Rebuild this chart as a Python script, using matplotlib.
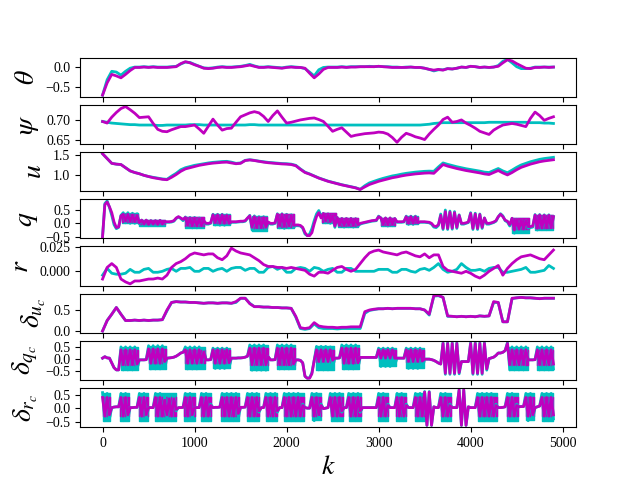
import numpy as np
import matplotlib
matplotlib.use('Agg')
import matplotlib.pyplot as plt

plt.rcParams['font.family'] = 'serif'
plt.rcParams['font.serif'] = ['Liberation Serif', 'DejaVu Serif']
plt.rcParams['mathtext.fontset'] = 'stix'

# sample index of the slow signals (every 50 steps) and the fast ones (every 25)
k50 = np.arange(0, 4901, 50)
k25 = np.arange(0, 4901, 25)

theta_ref = [
    -0.72, -0.32, -0.10, -0.12, -0.20, -0.10, -0.02, 0.01, 0.01, 0.02,
    0.01, 0.02, 0.01, 0.01, 0.01, 0.02, 0.03, 0.09, 0.14, 0.13,
    0.08, 0.03, -0.01, -0.02, -0.01, 0.01, 0.02, 0.01, 0.01, 0.02,
    0.03, 0.05, 0.08, 0.04, 0.01, 0.01, 0.02, 0.01, 0.0, -0.01,
    0.01, 0.02, 0.01, 0.0, -0.03, -0.12, -0.22, -0.06, 0.0, 0.01,
    0.01, 0.01, 0.02, 0.01, 0.02, 0.02, 0.02, 0.02, 0.03, 0.02,
    0.03, 0.02, 0.02, 0.01, 0.01, 0.0, 0.01, 0.01, 0.0, 0.0,
    -0.02, -0.05, -0.09, -0.06, -0.06, -0.03, -0.04, -0.02, 0.01, 0.0,
    0.03, 0.02, 0.0, 0.01, 0.0, 0.01, 0.05, 0.16, 0.21, 0.12,
    0.02, -0.03, -0.03, -0.02, 0.01, 0.01, 0.01, 0.01, 0.01]
theta = [
    -0.72, -0.40, -0.18, -0.22, -0.27, -0.18, -0.08, 0.0, 0.0, 0.01,
    0.0, 0.01, 0.0, 0.0, 0.0, 0.01, 0.02, 0.10, 0.15, 0.12,
    0.07, 0.03, -0.02, -0.03, -0.02, 0.0, 0.01, 0.0, 0.0, 0.01,
    0.02, 0.04, 0.06, 0.03, 0.0, 0.0, 0.01, 0.0, -0.01, -0.02,
    0.0, 0.01, 0.0, 0.0, -0.02, -0.15, -0.27, -0.17, -0.05, 0.0,
    0.0, 0.0, 0.01, 0.0, 0.01, 0.01, 0.02, 0.02, 0.02, 0.02,
    0.03, 0.02, 0.01, 0.0, 0.0, 0.0, 0.0, 0.01, 0.0, 0.0,
    -0.02, -0.05, -0.07, -0.05, -0.07, -0.03, -0.04, -0.02, 0.01, 0.0,
    0.03, 0.02, 0.0, 0.01, 0.0, 0.01, 0.03, 0.12, 0.20, 0.17,
    0.10, 0.04, -0.02, -0.03, 0.0, 0.0, 0.01, 0.0, 0.01]

psi_ref = [
    0.697, 0.695, 0.693, 0.692, 0.691, 0.690, 0.689, 0.689, 0.688, 0.688,
    0.688, 0.688, 0.687, 0.687, 0.688, 0.688, 0.688, 0.688, 0.688, 0.689,
    0.689, 0.689, 0.688, 0.688, 0.688, 0.688, 0.688, 0.688, 0.688, 0.688,
    0.688, 0.688, 0.689, 0.689, 0.688, 0.688, 0.688, 0.688, 0.688, 0.688,
    0.688, 0.688, 0.688, 0.688, 0.688, 0.688, 0.688, 0.688, 0.688, 0.688,
    0.688, 0.688, 0.688, 0.688, 0.688, 0.688, 0.688, 0.688, 0.688, 0.688,
    0.688, 0.688, 0.688, 0.688, 0.688, 0.688, 0.688, 0.688, 0.688, 0.688,
    0.689, 0.690, 0.692, 0.693, 0.694, 0.694, 0.694, 0.694, 0.694, 0.694,
    0.694, 0.694, 0.694, 0.694, 0.695, 0.695, 0.695, 0.695, 0.695, 0.695,
    0.695, 0.695, 0.695, 0.694, 0.694, 0.694, 0.693, 0.693, 0.692]
psi = [
    0.697, 0.693, 0.708, 0.720, 0.730, 0.735, 0.727, 0.718, 0.707, 0.708,
    0.709, 0.692, 0.677, 0.672, 0.671, 0.676, 0.680, 0.684, 0.684, 0.686,
    0.688, 0.678, 0.667, 0.685, 0.703, 0.688, 0.675, 0.679, 0.680, 0.695,
    0.709, 0.714, 0.719, 0.722, 0.719, 0.710, 0.697, 0.712, 0.724, 0.708,
    0.693, 0.695, 0.698, 0.701, 0.703, 0.705, 0.706, 0.702, 0.697, 0.685,
    0.672, 0.677, 0.681, 0.670, 0.659, 0.662, 0.664, 0.666, 0.667, 0.668,
    0.670, 0.669, 0.665, 0.656, 0.644, 0.657, 0.667, 0.663, 0.658, 0.655,
    0.651, 0.665, 0.677, 0.688, 0.702, 0.708, 0.695, 0.697, 0.701, 0.693,
    0.687, 0.680, 0.672, 0.668, 0.664, 0.675, 0.682, 0.688, 0.690, 0.692,
    0.690, 0.687, 0.684, 0.705, 0.721, 0.712, 0.700, 0.705, 0.709]

u_ref = [
    1.54, 1.42, 1.30, 1.28, 1.27, 1.19, 1.11, 1.07, 1.04, 1.00,
    0.97, 0.95, 0.93, 0.91, 0.90, 0.98, 1.05, 1.14, 1.19, 1.22,
    1.25, 1.27, 1.29, 1.31, 1.325, 1.335, 1.345, 1.35, 1.33, 1.30,
    1.31, 1.375, 1.39, 1.375, 1.355, 1.34, 1.325, 1.315, 1.305, 1.295,
    1.29, 1.28, 1.25, 1.16, 1.08, 1.035, 0.985, 0.935, 0.895, 0.855,
    0.825, 0.795, 0.765, 0.74, 0.715, 0.69, 0.65, 0.74, 0.81, 0.85,
    0.89, 0.925, 0.955, 0.985, 1.005, 1.03, 1.05, 1.065, 1.08, 1.09,
    1.10, 1.105, 1.10, 1.21, 1.31, 1.275, 1.245, 1.215, 1.19, 1.165,
    1.145, 1.125, 1.105, 1.08, 1.07, 1.12, 1.17, 1.11, 1.065, 1.13,
    1.20, 1.26, 1.30, 1.34, 1.37, 1.40, 1.42, 1.435, 1.45]
u = [
    1.54, 1.42, 1.30, 1.28, 1.27, 1.19, 1.11, 1.07, 1.04, 1.00,
    0.97, 0.94, 0.92, 0.90, 0.89, 0.95, 1.02, 1.10, 1.16, 1.19,
    1.22, 1.25, 1.27, 1.29, 1.305, 1.315, 1.325, 1.33, 1.31, 1.29,
    1.30, 1.37, 1.385, 1.37, 1.35, 1.33, 1.315, 1.305, 1.295, 1.285,
    1.28, 1.27, 1.24, 1.15, 1.07, 1.03, 0.98, 0.93, 0.89, 0.85,
    0.82, 0.79, 0.76, 0.735, 0.71, 0.685, 0.645, 0.71, 0.77, 0.81,
    0.85, 0.88, 0.91, 0.94, 0.96, 0.985, 1.005, 1.02, 1.035, 1.045,
    1.055, 1.06, 1.05, 1.16, 1.27, 1.23, 1.20, 1.17, 1.145, 1.12,
    1.10, 1.08, 1.06, 1.035, 1.02, 1.07, 1.12, 1.06, 1.01, 1.07,
    1.14, 1.20, 1.24, 1.28, 1.31, 1.34, 1.36, 1.375, 1.39]

q_ref = [
    -0.50, 0.74, 0.84, 0.60, 0.30, -0.05, -0.20, -0.15, 0.30, 0.40, 0.02, 0.40, 0.0, 0.38, 0.0, 0.36, -0.02, 0.12, -0.08, 0.12,
    -0.09, 0.10, -0.08, 0.10, -0.09, 0.11, -0.08, 0.04, 0.04, 0.04, 0.05, 0.08, 0.18, 0.24, 0.18, 0.10, 0.24, -0.15, 0.22, -0.17,
    0.22, -0.17, 0.20, -0.15, 0.08, -0.03, -0.03, 0.0, 0.34, -0.06, 0.34, -0.07, 0.34, -0.07, 0.32, -0.05, 0.04, 0.04, 0.04, 0.05,
    0.06, 0.06, 0.08, 0.18, 0.30, -0.25, 0.28, -0.27, 0.25, -0.27, 0.25, -0.25, 0.02, -0.03, -0.03, 0.0, 0.36, -0.17, 0.36, -0.19,
    0.34, -0.17, 0.32, -0.14, -0.09, -0.09, -0.10, -0.18, -0.40, -0.46, -0.40, -0.20, 0.10, 0.35, 0.48, 0.28, 0.37, 0.02, 0.35, 0.0,
    0.30, -0.15, 0.22, -0.12, 0.18, -0.14, 0.18, -0.13, 0.18, -0.14, 0.17, -0.10, -0.03, 0.0, 0.02, 0.04, 0.06, 0.08, 0.09, 0.10,
    0.27, 0.20, -0.09, 0.20, -0.10, 0.20, -0.09, 0.18, 0.04, 0.04, 0.04, 0.05, 0.27, -0.04, 0.27, -0.04, 0.27, 0.0, 0.04, 0.04,
    0.04, 0.03, 0.02, -0.03, -0.14, -0.16, -0.08, 0.35, -0.23, 0.50, -0.23, 0.46, -0.22, 0.44, -0.19, 0.32, -0.03, -0.03, 0.0, 0.03,
    0.40, -0.23, 0.38, -0.23, 0.35, -0.19, 0.20, -0.03, -0.03, 0.0, 0.03, 0.08, 0.24, 0.36, 0.28, 0.10, 0.05, -0.10, 0.19, -0.37,
    0.15, -0.33, 0.12, -0.30, 0.10, -0.18, -0.16, -0.14, 0.33, -0.25, 0.33, -0.24, 0.32, -0.24, 0.32, -0.23, 0.25]
q = [
    -0.50, 0.70, 0.80, 0.62, 0.40, 0.05, -0.16, -0.13, 0.28, 0.34, 0.08, 0.34, 0.06, 0.32, 0.06, 0.30, 0.02, 0.12, -0.03, 0.12,
    -0.04, 0.10, -0.03, 0.10, -0.04, 0.11, -0.03, 0.06, 0.06, 0.06, 0.07, 0.10, 0.20, 0.25, 0.20, 0.15, 0.22, -0.08, 0.20, -0.10,
    0.20, -0.10, 0.18, -0.10, 0.10, 0.0, 0.0, 0.02, 0.32, 0.02, 0.32, 0.0, 0.32, 0.0, 0.30, 0.0, 0.06, 0.06, 0.06, 0.07,
    0.08, 0.08, 0.10, 0.20, 0.28, -0.15, 0.25, -0.17, 0.22, -0.17, 0.22, -0.15, 0.05, 0.0, 0.0, 0.02, 0.34, -0.10, 0.34, -0.12,
    0.32, -0.10, 0.30, -0.08, -0.06, -0.06, -0.08, -0.15, -0.35, -0.46, -0.46, -0.35, -0.02, 0.25, 0.40, 0.20, 0.37, 0.08, 0.35, 0.06,
    0.30, -0.10, 0.22, -0.08, 0.18, -0.09, 0.18, -0.08, 0.18, -0.09, 0.17, -0.06, 0.0, 0.02, 0.04, 0.06, 0.08, 0.10, 0.11, 0.12,
    0.25, 0.20, -0.05, 0.20, -0.06, 0.20, -0.05, 0.18, 0.06, 0.06, 0.06, 0.07, 0.25, 0.0, 0.25, 0.0, 0.25, 0.02, 0.06, 0.06,
    0.06, 0.05, 0.04, 0.0, -0.10, -0.12, -0.05, 0.30, -0.19, 0.44, -0.19, 0.42, -0.18, 0.40, -0.15, 0.30, 0.0, 0.0, 0.02, 0.05,
    0.37, -0.19, 0.35, -0.19, 0.33, -0.15, 0.20, 0.0, 0.0, 0.02, 0.05, 0.10, 0.25, 0.34, 0.25, 0.12, 0.08, -0.05, 0.19, -0.25,
    0.15, -0.22, 0.12, -0.22, 0.10, -0.12, -0.12, -0.10, 0.31, -0.19, 0.31, -0.18, 0.30, -0.18, 0.30, -0.17, 0.25]

r_ref = [
    -0.004, 0.003, -0.002, -0.003, -0.003, -0.002, 0.002, -0.001, -0.001, 0.002,
    0.003, -0.001, -0.001, 0.000, 0.002, 0.003, 0.000, 0.003, 0.003, 0.004,
    0.000, 0.000, 0.003, 0.003, 0.000, 0.002, 0.003, 0.000, 0.003, 0.004,
    0.004, 0.001, 0.003, 0.003, -0.001, -0.001, 0.004, 0.005, 0.002, 0.004,
    -0.001, -0.001, 0.003, 0.004, 0.003, 0.000, 0.004, 0.003, 0.000, 0.002,
    0.003, -0.001, -0.001, 0.003, 0.003, 0.000, 0.000, 0.000, 0.000, 0.000,
    0.002, 0.002, 0.002, -0.001, -0.001, 0.002, 0.002, 0.000, -0.001, 0.002,
    0.003, 0.001, 0.004, 0.008, 0.002, -0.001, 0.000, 0.002, 0.008, 0.004,
    0.001, 0.001, 0.002, 0.000, 0.003, 0.004, 0.004, -0.001, -0.001, 0.000,
    0.001, 0.002, 0.004, -0.001, -0.001, 0.000, 0.001, 0.006, 0.003]
r = [
    -0.008, 0.004, 0.008, 0.004, -0.008, -0.011, -0.013, -0.010, -0.010, -0.009,
    -0.008, -0.008, -0.007, -0.008, -0.004, 0.004, 0.008, 0.010, 0.013, 0.017,
    0.019, 0.018, 0.017, 0.018, 0.018, 0.014, 0.012, 0.016, 0.024, 0.021,
    0.019, 0.018, 0.017, 0.014, 0.011, 0.007, 0.005, 0.005, 0.004, 0.004,
    0.003, 0.004, 0.003, 0.002, 0.001, -0.003, -0.005, -0.001, -0.001, -0.002,
    0.001, 0.004, 0.005, 0.002, 0.000, 0.002, 0.008, 0.014, 0.019, 0.021,
    0.022, 0.020, 0.019, 0.018, 0.017, 0.019, 0.020, 0.018, 0.016, 0.015,
    0.018, 0.014, 0.017, 0.017, 0.005, 0.001, 0.000, -0.001, -0.002, 0.000,
    -0.002, -0.005, -0.007, -0.004, 0.000, 0.003, 0.006, -0.004, 0.003, 0.008,
    0.012, 0.015, 0.016, 0.017, 0.015, 0.013, 0.012, 0.017, 0.022]

du_ref = [
    0.00, 0.25, 0.40, 0.56, 0.40, 0.25, 0.25, 0.26, 0.25, 0.26,
    0.25, 0.26, 0.26, 0.27, 0.48, 0.68, 0.70, 0.69, 0.69, 0.68,
    0.68, 0.67, 0.66, 0.67, 0.67, 0.66, 0.67, 0.67, 0.66, 0.68,
    0.78, 0.78, 0.66, 0.58, 0.58, 0.57, 0.57, 0.56, 0.56, 0.55,
    0.55, 0.54, 0.33, 0.06, 0.04, 0.06, 0.17, 0.08, 0.06, 0.06,
    0.06, 0.05, 0.06, 0.06, 0.06, 0.06, 0.06, 0.42, 0.49, 0.51,
    0.53, 0.53, 0.54, 0.53, 0.54, 0.54, 0.54, 0.54, 0.53, 0.53,
    0.50, 0.38, 0.83, 0.84, 0.80, 0.35, 0.35, 0.34, 0.35, 0.34,
    0.35, 0.34, 0.36, 0.35, 0.36, 0.68, 0.68, 0.22, 0.22, 0.77,
    0.79, 0.80, 0.79, 0.79, 0.78, 0.77, 0.78, 0.78, 0.78]
du = [
    0.00, 0.25, 0.40, 0.56, 0.40, 0.25, 0.25, 0.26, 0.25, 0.26,
    0.25, 0.26, 0.26, 0.27, 0.50, 0.68, 0.70, 0.69, 0.69, 0.68,
    0.68, 0.67, 0.66, 0.67, 0.67, 0.66, 0.67, 0.67, 0.66, 0.70,
    0.78, 0.78, 0.65, 0.58, 0.58, 0.57, 0.57, 0.56, 0.56, 0.55,
    0.55, 0.54, 0.35, 0.08, 0.06, 0.08, 0.20, 0.12, 0.10, 0.09,
    0.09, 0.08, 0.09, 0.09, 0.10, 0.10, 0.10, 0.46, 0.50, 0.52,
    0.53, 0.53, 0.54, 0.53, 0.54, 0.54, 0.54, 0.54, 0.53, 0.53,
    0.50, 0.40, 0.84, 0.85, 0.80, 0.36, 0.35, 0.34, 0.35, 0.34,
    0.35, 0.34, 0.36, 0.35, 0.36, 0.70, 0.68, 0.22, 0.22, 0.78,
    0.79, 0.80, 0.79, 0.79, 0.78, 0.77, 0.78, 0.78, 0.78]

dq_ref = [
    0.04, 0.10, 0.05, 0.04, -0.15, -0.35, -0.44, -0.44, 0.50, -0.44, 0.50, -0.44, 0.50, -0.44, 0.50, -0.40, -0.03, -0.03, -0.03, -0.02,
    0.55, -0.40, 0.55, -0.40, 0.55, -0.40, 0.55, -0.30, 0.04, 0.05, 0.06, 0.08, 0.12, 0.18, 0.25, 0.28, 0.50, -0.40, 0.50, -0.40,
    0.50, -0.40, 0.50, -0.38, 0.40, -0.03, -0.03, -0.02, 0.45, -0.38, 0.45, -0.38, 0.45, -0.38, 0.45, -0.35, 0.04, 0.04, 0.04, 0.05,
    0.05, 0.06, 0.08, 0.12, 0.58, -0.45, 0.58, -0.45, 0.58, -0.45, 0.58, -0.45, 0.10, -0.03, -0.03, -0.02, 0.58, -0.40, 0.58, -0.40,
    0.58, -0.40, 0.58, -0.38, -0.03, -0.03, -0.05, -0.15, -0.70, -0.78, -0.76, -0.55, -0.05, 0.52, -0.44, 0.52, -0.44, 0.52, -0.44, 0.50,
    -0.30, 0.04, 0.04, 0.05, 0.58, -0.40, 0.58, -0.40, 0.58, -0.40, 0.58, -0.38, 0.07, 0.07, 0.07, 0.07, 0.07, 0.07, 0.07, 0.07,
    0.45, -0.30, 0.45, -0.30, 0.45, -0.30, 0.45, -0.25, 0.04, 0.04, 0.04, 0.04, 0.45, -0.38, 0.45, -0.38, 0.45, -0.38, 0.45, -0.35,
    0.0, 0.0, 0.0, -0.02, -0.05, -0.10, -0.16, -0.20, 0.68, -0.62, 0.68, -0.62, 0.68, -0.62, 0.68, -0.60, -0.10, -0.10, -0.10, -0.10,
    0.68, -0.62, 0.68, -0.62, 0.68, -0.62, 0.68, -0.45, 0.02, 0.05, 0.08, 0.15, 0.25, 0.25, 0.28, 0.35, 0.68, -0.44, 0.50, -0.44,
    0.50, -0.44, 0.50, -0.44, 0.50, -0.03, -0.03, -0.03, -0.02, 0.50, -0.44, 0.50, -0.44, 0.50, -0.44, 0.50, -0.40]
dq = [
    0.04, 0.10, 0.05, 0.04, -0.15, -0.35, -0.44, -0.44, 0.38, -0.23, 0.38, -0.23, 0.38, -0.23, 0.38, -0.20, -0.03, -0.03, -0.03, -0.02,
    0.42, -0.17, 0.42, -0.17, 0.42, -0.17, 0.42, -0.10, 0.04, 0.05, 0.06, 0.08, 0.12, 0.18, 0.25, 0.28, 0.38, -0.17, 0.38, -0.17,
    0.38, -0.17, 0.38, -0.15, 0.30, -0.03, -0.03, -0.02, 0.38, -0.17, 0.38, -0.17, 0.38, -0.17, 0.38, -0.15, 0.04, 0.04, 0.04, 0.05,
    0.05, 0.06, 0.08, 0.12, 0.45, -0.23, 0.45, -0.23, 0.45, -0.23, 0.45, -0.23, 0.10, -0.03, -0.03, -0.02, 0.45, -0.23, 0.45, -0.23,
    0.45, -0.23, 0.45, -0.20, -0.03, -0.03, -0.05, -0.15, -0.70, -0.78, -0.78, -0.60, -0.05, 0.38, -0.10, 0.38, -0.10, 0.38, -0.10, 0.38,
    -0.05, 0.04, 0.04, 0.05, 0.45, -0.17, 0.45, -0.17, 0.45, -0.17, 0.45, -0.15, 0.07, 0.07, 0.07, 0.07, 0.07, 0.07, 0.07, 0.07,
    0.38, 0.04, 0.38, 0.04, 0.38, 0.04, 0.38, 0.04, 0.04, 0.04, 0.04, 0.04, 0.38, -0.10, 0.38, -0.10, 0.38, -0.10, 0.38, -0.08,
    0.0, 0.0, 0.0, -0.02, -0.05, -0.10, -0.16, -0.20, 0.64, -0.58, 0.64, -0.58, 0.64, -0.58, 0.64, -0.55, -0.10, -0.10, -0.10, -0.10,
    0.64, -0.58, 0.64, -0.58, 0.64, -0.58, 0.64, -0.40, 0.02, 0.05, 0.08, 0.15, 0.25, 0.25, 0.28, 0.35, 0.64, -0.23, 0.38, -0.23,
    0.38, -0.23, 0.38, -0.23, 0.38, -0.03, -0.03, -0.03, -0.02, 0.38, -0.23, 0.38, -0.23, 0.38, -0.23, 0.38, -0.20]

dr_ref = [
    0.58, -0.47, 0.55, -0.40, 0.02, 0.04, 0.05, 0.05, 0.55, -0.47, 0.55, -0.40, 0.02, 0.02, 0.03, 0.03, 0.55, -0.47, 0.55, -0.40,
    0.02, 0.02, 0.02, 0.55, -0.47, 0.55, -0.47, 0.45, -0.40, 0.50, -0.47, 0.50, -0.10, 0.02, 0.02, 0.03, 0.55, -0.47, 0.55, -0.40,
    0.02, 0.02, 0.02, 0.55, -0.47, 0.55, -0.47, 0.15, 0.02, 0.03, 0.03, 0.04, 0.55, -0.47, 0.55, -0.47, 0.55, -0.47, 0.55, -0.35,
    0.03, 0.03, 0.04, 0.55, -0.47, 0.55, -0.47, 0.55, -0.15, 0.02, 0.02, 0.55, -0.47, 0.55, -0.47, 0.55, -0.15, 0.02, 0.02, 0.55,
    -0.47, 0.55, -0.47, 0.55, -0.47, 0.55, -0.47, 0.15, 0.02, 0.0, 0.0, 0.55, -0.47, 0.55, -0.40, 0.15, -0.02, 0.0, 0.02, 0.55,
    -0.47, 0.55, -0.47, 0.55, -0.15, 0.02, 0.02, 0.55, -0.47, 0.55, -0.47, 0.55, -0.15, 0.02, 0.02, 0.02, 0.02, 0.02, 0.02, 0.02,
    0.55, -0.47, 0.55, -0.47, 0.15, 0.02, 0.02, 0.02, 0.55, -0.47, 0.55, -0.47, 0.15, 0.02, 0.02, 0.02, 0.55, -0.47, 0.55, -0.47,
    0.62, -0.645, 0.62, -0.645, 0.05, 0.02, 0.02, 0.55, -0.47, 0.55, -0.47, 0.15, 0.02, 0.02, 0.02, 0.69, -0.645, 0.69, -0.645, 0.05,
    0.02, 0.02, 0.02, 0.55, -0.47, 0.55, -0.47, 0.55, -0.47, 0.55, -0.47, 0.15, 0.02, 0.02, 0.03, 0.05, 0.55, -0.47, 0.55, -0.47,
    0.15, 0.05, 0.06, 0.06, 0.55, -0.47, 0.55, -0.40, 0.02, 0.05, 0.08, 0.55, -0.47, 0.55, -0.47, 0.55, -0.40]
dr = [
    0.40, -0.30, 0.40, -0.25, 0.02, 0.04, 0.05, 0.05, 0.40, -0.30, 0.40, -0.25, 0.02, 0.02, 0.03, 0.03, 0.40, -0.30, 0.40, -0.25,
    0.02, 0.02, 0.02, 0.40, -0.30, 0.40, -0.30, 0.30, -0.25, 0.35, -0.30, 0.35, -0.05, 0.02, 0.02, 0.03, 0.40, -0.30, 0.40, -0.25,
    0.02, 0.02, 0.02, 0.40, -0.30, 0.40, -0.30, 0.10, 0.02, 0.03, 0.03, 0.04, 0.40, -0.30, 0.40, -0.30, 0.40, -0.30, 0.40, -0.20,
    0.03, 0.03, 0.04, 0.40, -0.30, 0.40, -0.30, 0.40, -0.10, 0.02, 0.02, 0.40, -0.30, 0.40, -0.30, 0.40, -0.10, 0.02, 0.02, 0.40,
    -0.30, 0.40, -0.30, 0.40, -0.30, 0.40, -0.30, 0.10, 0.02, 0.0, 0.0, 0.40, -0.30, 0.40, -0.25, 0.10, -0.02, 0.0, 0.02, 0.40,
    -0.30, 0.40, -0.30, 0.40, -0.10, 0.02, 0.02, 0.40, -0.30, 0.40, -0.30, 0.40, -0.10, 0.02, 0.02, 0.02, 0.02, 0.02, 0.02, 0.02,
    0.40, -0.30, 0.40, -0.30, 0.10, 0.02, 0.02, 0.02, 0.40, -0.30, 0.40, -0.30, 0.10, 0.02, 0.02, 0.02, 0.40, -0.30, 0.40, -0.30,
    0.60, -0.64, 0.60, -0.64, 0.05, 0.02, 0.02, 0.40, -0.30, 0.40, -0.30, 0.10, 0.02, 0.02, 0.02, 0.68, -0.64, 0.68, -0.64, 0.05,
    0.02, 0.02, 0.02, 0.40, -0.30, 0.40, -0.30, 0.40, -0.30, 0.40, -0.30, 0.10, 0.02, 0.02, 0.03, 0.05, 0.40, -0.30, 0.40, -0.30,
    0.10, 0.05, 0.06, 0.06, 0.40, -0.30, 0.40, -0.25, 0.02, 0.05, 0.08, 0.40, -0.30, 0.40, -0.30, 0.40, -0.25]

# fast chattering stretches: (k start, k end, low, high), too dense to show as single points
q_ref_bursts = [(210, 380, 0.0, 0.40), (400, 680, -0.09, 0.12), (900, 1100, -0.17, 0.24),
                (1200, 1390, -0.07, 0.34), (1620, 1790, -0.27, 0.28), (1900, 2080, -0.19, 0.36),
                (2390, 2540, 0.0, 0.37), (2560, 2780, -0.14, 0.19), (3030, 3180, -0.10, 0.20),
                (3300, 3430, -0.04, 0.27), (4450, 4630, -0.35, 0.19), (4700, 4900, -0.25, 0.33)]
q_bursts = [(210, 380, 0.06, 0.34), (400, 680, -0.04, 0.12), (900, 1100, -0.10, 0.22),
            (1200, 1390, 0.0, 0.32), (1620, 1790, -0.17, 0.25), (1900, 2080, -0.12, 0.34),
            (2390, 2540, 0.06, 0.37), (2560, 2780, -0.09, 0.19), (3030, 3180, -0.06, 0.20),
            (3300, 3430, 0.0, 0.25), (4450, 4630, -0.22, 0.19), (4700, 4900, -0.19, 0.31)]
dq_ref_bursts = [(200, 380, -0.44, 0.50), (500, 690, -0.40, 0.55), (900, 1110, -0.40, 0.50),
                 (1200, 1390, -0.38, 0.45), (1600, 1800, -0.45, 0.58), (1900, 2090, -0.40, 0.58),
                 (2320, 2510, -0.44, 0.52), (2600, 2790, -0.40, 0.58), (3000, 3190, -0.30, 0.45),
                 (3300, 3490, -0.38, 0.45), (4420, 4620, -0.44, 0.50), (4720, 4900, -0.44, 0.50)]
dq_bursts = [(200, 380, -0.23, 0.38), (500, 690, -0.17, 0.42), (900, 1110, -0.17, 0.38),
             (1200, 1390, -0.17, 0.38), (1600, 1800, -0.23, 0.45), (1900, 2090, -0.23, 0.45),
             (2320, 2510, -0.10, 0.38), (2600, 2790, -0.17, 0.45), (3000, 3190, 0.04, 0.38),
             (3300, 3490, -0.10, 0.38), (4420, 4620, -0.23, 0.38), (4720, 4900, -0.23, 0.38)]
dr_ref_bursts = [(0, 80, -0.47, 0.58), (190, 290, -0.47, 0.55), (400, 490, -0.47, 0.55),
                 (575, 800, -0.47, 0.55), (890, 1000, -0.47, 0.55), (1070, 1180, -0.47, 0.55),
                 (1290, 1485, -0.47, 0.55), (1575, 1700, -0.47, 0.55), (1775, 1900, -0.47, 0.55),
                 (1975, 2190, -0.47, 0.55), (2280, 2375, -0.45, 0.55), (2480, 2610, -0.47, 0.55),
                 (2680, 2810, -0.47, 0.55), (2990, 3100, -0.47, 0.55), (3190, 3300, -0.47, 0.55),
                 (3400, 3500, -0.47, 0.55), (3680, 3790, -0.47, 0.55), (4075, 4290, -0.47, 0.55),
                 (4400, 4510, -0.47, 0.55), (4600, 4690, -0.45, 0.55), (4780, 4900, -0.47, 0.55)]
dr_bursts = [(0, 80, -0.30, 0.40), (190, 290, -0.30, 0.40), (400, 490, -0.30, 0.40),
             (575, 800, -0.30, 0.40), (890, 1000, -0.30, 0.40), (1070, 1180, -0.30, 0.40),
             (1290, 1485, -0.30, 0.40), (1575, 1700, -0.30, 0.40), (1775, 1900, -0.30, 0.40),
             (1975, 2190, -0.30, 0.40), (2280, 2375, -0.28, 0.40), (2480, 2610, -0.30, 0.40),
             (2680, 2810, -0.30, 0.40), (2990, 3100, -0.30, 0.40), (3190, 3300, -0.30, 0.40),
             (3400, 3500, -0.30, 0.40), (3680, 3790, -0.30, 0.40), (4075, 4290, -0.30, 0.40),
             (4400, 4510, -0.30, 0.40), (4600, 4690, -0.28, 0.40), (4780, 4900, -0.30, 0.40)]

labels = [r'$\theta$', r'$\psi$', r'$u$', r'$q$', r'$r$',
          r'$\delta_{u_c}$', r'$\delta_{q_c}$', r'$\delta_{r_c}$']
series = [(k50, theta_ref, theta, [], []), (k50, psi_ref, psi, [], []),
          (k50, u_ref, u, [], []), (k25, q_ref, q, q_ref_bursts, q_bursts),
          (k50, r_ref, r, [], []), (k50, du_ref, du, [], []),
          (k25, dq_ref, dq, dq_ref_bursts, dq_bursts),
          (k25, dr_ref, dr, dr_ref_bursts, dr_bursts)]

fig, axes = plt.subplots(8, 1, sharex=True, figsize=(6.4, 4.8), dpi=100)
for ax, (k, ref, val, ref_b, val_b), lab in zip(axes, series, labels):
    ax.plot(k, ref, 'c', lw=2)
    for s, e, lo, hi in ref_b:
        ax.fill_between([s, e], lo, hi, color='c', lw=1)
    ax.plot(k, val, 'm', lw=2)
    for s, e, lo, hi in val_b:
        ax.fill_between([s, e], lo, hi, color='m', lw=1)
    ax.set_ylabel(lab, fontsize=20)
    ax.set_xlabel(r'$k$', fontsize=20)

fig.savefig('out.png')
